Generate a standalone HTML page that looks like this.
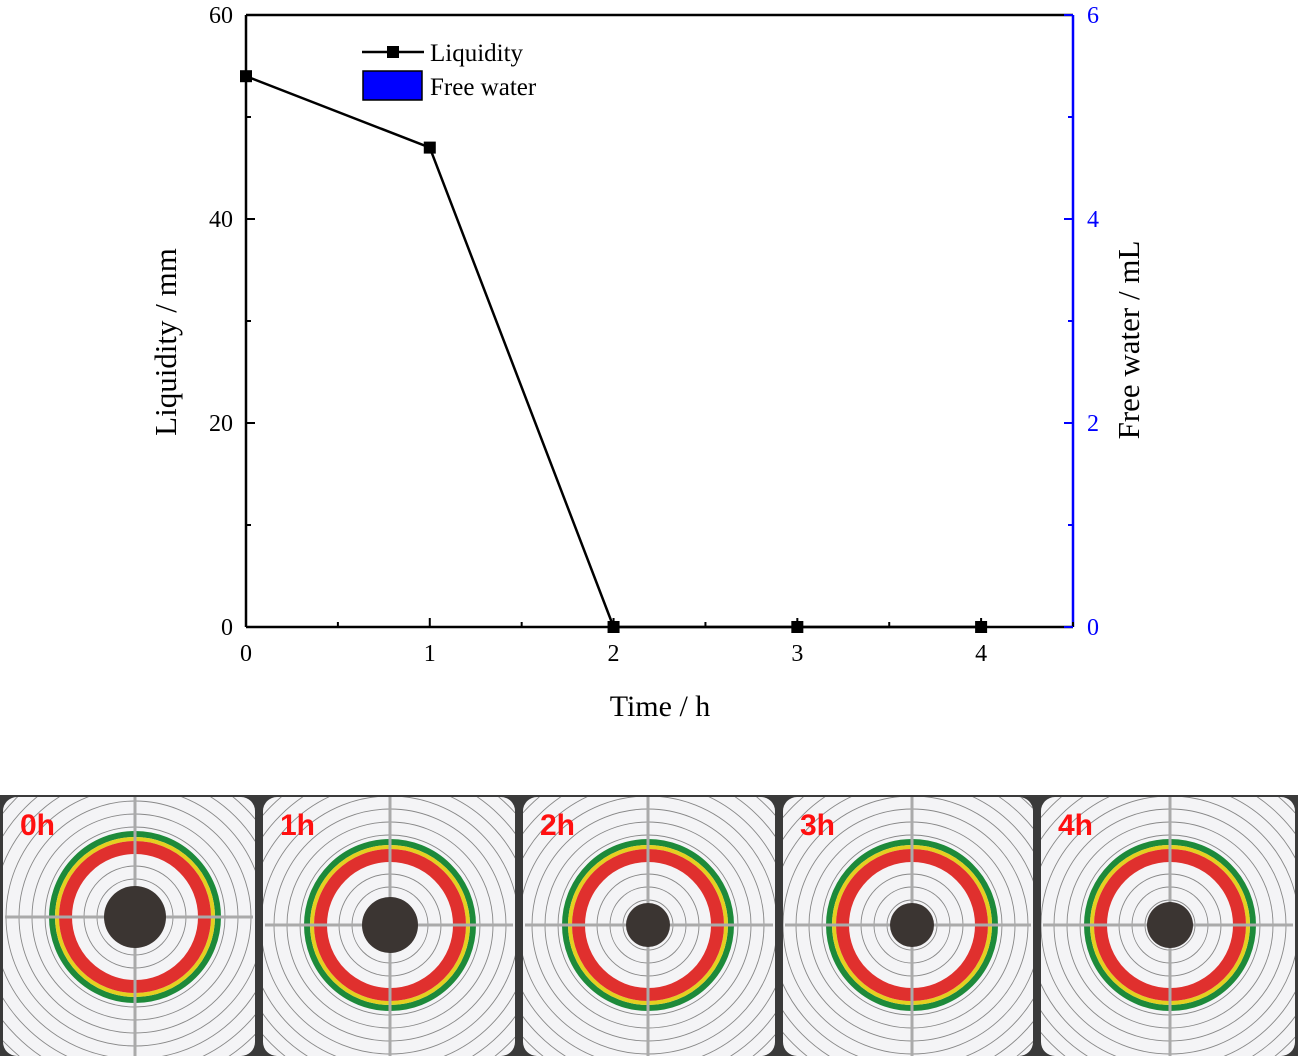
<!DOCTYPE html>
<html><head><meta charset="utf-8"><style>
body{margin:0;background:#fff;width:1298px;height:1056px;overflow:hidden}
text{font-family:"Liberation Serif",serif}
text.lab{font-family:"Liberation Sans",sans-serif;font-weight:bold}
</style></head><body>
<svg width="1298" height="1056" xmlns="http://www.w3.org/2000/svg">
<defs id="defs"></defs>
<g id="chart"></g>
<g id="photos"></g>
</svg>
<script>
const times=[0,1,2,3,4];
const liquidity=[54,47,0,0,0];
const xTicks=[0,1,2,3,4];
const yTicks=[0,20,40,60];
const y2Ticks=[0,2,4,6];
const photoLabels=["0h","1h","2h","3h","4h"];
const blobRadii=[31,28,22,22,23];

const NS="http://www.w3.org/2000/svg";
const L=246,R=1073,T=15,B=627;
const xs=v=>L+v/4.5*(R-L);
const ys=v=>B-v/60*(B-T);
const y2=v=>B-v/6*(B-T);
function mk(tag,attrs,parent,txt){const e=document.createElementNS(NS,tag);for(const k in attrs)e.setAttribute(k,attrs[k]);if(txt!==undefined)e.textContent=txt;parent.appendChild(e);return e;}
const g=document.getElementById('chart');
let e=mk('line',{x1:L,y1:T,x2:R,y2:T,stroke:'#000','stroke-width':2.5},g);

e=mk('line',{x1:L,y1:B,x2:R,y2:B,stroke:'#000','stroke-width':2.5},g);

e=mk('line',{x1:L,y1:T,x2:L,y2:B,stroke:'#000','stroke-width':2.5},g);

e=mk('line',{x1:R,y1:T,x2:R,y2:B,stroke:'#0000ff','stroke-width':2.5},g);

for(let i=0;i<=9;i++){const v=i*0.5;const x=xs(v);const len=i%2==0?9:5;
 mk('line',{x1:x,y1:B,x2:x,y2:B-len,stroke:'#000','stroke-width':2},g);}
xTicks.forEach(v=>{e=mk('text',{x:xs(v),y:B+34,'font-size':24,'text-anchor':'middle'},g,String(v));
 });
for(let i=0;i<=6;i++){const v=i*10;const y=ys(v);const len=i%2==0?9:5;
 mk('line',{x1:L,y1:y,x2:L+len,y2:y,stroke:'#000','stroke-width':2},g);
 mk('line',{x1:R,y1:y,x2:R-len,y2:y,stroke:'#0000ff','stroke-width':2},g);}
yTicks.forEach(v=>{e=mk('text',{x:L-13,y:ys(v)+8,'font-size':24,'text-anchor':'end'},g,String(v));
 });
y2Ticks.forEach(v=>{e=mk('text',{x:R+14,y:y2(v)+8,'font-size':24,fill:'#0000ff'},g,String(v));
 });
e=mk('text',{x:660,y:716,'font-size':30,'text-anchor':'middle'},g,'Time / h');

e=mk('text',{x:0,y:0,'font-size':31,'text-anchor':'middle',transform:'translate(176,342) rotate(-90)'},g,'Liquidity / mm');

e=mk('text',{x:0,y:0,'font-size':31,'text-anchor':'middle',transform:'translate(1139,340) rotate(-90)'},g,'Free water / mL');

const pts=times.map((t,i)=>xs(t)+','+ys(liquidity[i])).join(' ');
e=mk('polyline',{points:pts,fill:'none',stroke:'#000','stroke-width':2.5},g);

times.forEach((t,i)=>{e=mk('rect',{x:xs(t)-6,y:ys(liquidity[i])-6,width:12,height:12,fill:'#000'},g);
 });
e=mk('g',{},g);
mk('line',{x1:362,y1:52,x2:424,y2:52,stroke:'#000','stroke-width':2.5},e);
mk('rect',{x:387,y:46,width:12,height:12,fill:'#000'},e);
mk('text',{x:430,y:61,'font-size':25},e,'Liquidity');
mk('rect',{x:363,y:71,width:59,height:29,fill:'#0000ff',stroke:'#000','stroke-width':1.5},e);
mk('text',{x:430,y:95,'font-size':25},e,'Free water');
// photos
const p=document.getElementById('photos');
const defs=document.getElementById('defs');
mk('rect',{x:0,y:795,width:1298,height:261,fill:'#3a3a3a'},p);
const px=[0,260,520,780,1038],pw=[258,258,258,256,260],cx=[135,390,648,912,1170],cy=[917,925,925,925,925];
photoLabels.forEach((lab,i)=>{
 const cp=mk('clipPath',{id:'cp'+i},defs);
 mk('rect',{x:px[i]+3,y:797,width:pw[i]-6,height:259,rx:14},cp);
 const pg=mk('g',{'clip-path':'url(#cp'+i+')'},p);
 mk('rect',{x:px[i]+3,y:797,width:pw[i]-6,height:259,fill:'#f4f4f6'},pg);
 const c=cx[i],y=cy[i];
 for(let r=12;r<=190;r+=13){mk('circle',{cx:c,cy:y,r:r,fill:'none',stroke:'#888','stroke-width':0.9},pg);}
 mk('circle',{cx:c,cy:y,r:83,fill:'none',stroke:'#1d8a3a','stroke-width':6},pg);
 mk('circle',{cx:c,cy:y,r:78,fill:'none',stroke:'#e4d020','stroke-width':4},pg);
 mk('circle',{cx:c,cy:y,r:69.5,fill:'none',stroke:'#e0302e','stroke-width':13},pg);
 mk('line',{x1:px[i]+5,y1:y,x2:px[i]+pw[i]-5,y2:y,stroke:'#aaa','stroke-width':3},pg);
 mk('line',{x1:c,y1:797,x2:c,y2:1056,stroke:'#aaa','stroke-width':3},pg);
 mk('circle',{cx:c,cy:y,r:blobRadii[i],fill:'#3b3532'},pg);
 const t=mk('text',{x:px[i]+20,y:835,'font-size':30,fill:'#ff1010',class:'lab'},pg,lab);
 
});
</script>
</body></html>
